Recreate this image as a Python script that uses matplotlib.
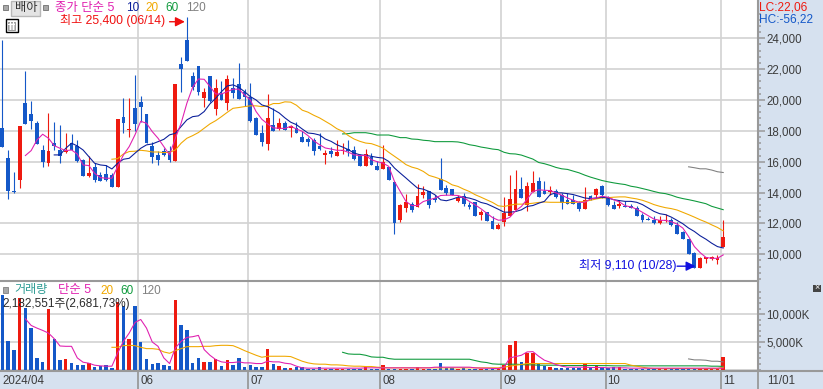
import numpy as np
import matplotlib
matplotlib.use("Agg")
import matplotlib.pyplot as plt
from matplotlib.patches import Rectangle
from matplotlib.ticker import FixedLocator, FuncFormatter

W, H = 823, 389
FONT = ['Liberation Sans', 'Noto Sans CJK KR']
plt.rcParams['font.family'] = FONT

highs = [23890,16760,15340,18320,21880,19940,18640,17090,19160,18560,
         18360,17870,17780,17410,16160,16370,15900,15320,15810,15250,
         18770,20130,20130,21620,20260,19100,17300,16720,16870,17020,
         21040,22810,25400,21840,22210,20760,21560,21340,21240,21600,
         21410,22400,20700,21080,18880,18360,20390,19490,18860,18620,
         18400,18580,17970,17580,17540,17860,16780,16950,17430,17210,
         17430,17040,16500,16850,16560,16060,17100,15630,14700,13270,
         13900,13420,14550,14440,14120,13860,16260,14480,14250,13860,
         13990,13380,13360,12840,12710,12450,12060,13730,15160,15480,
         15030,14700,15420,15030,14740,14410,14200,13980,14000,13870,
         13430,14330,13870,14300,14520,13760,13430,13500,13430,13280,
         13150,12670,12410,12500,12500,12610,12350,12070,11480,11000,
         10130,9850,9830,9910,9960,12240]
opens = [18190,16250,14110,14820,19810,19100,18510,16760,15940,17220,
         16760,16660,17200,17020,16120,15100,15680,15140,15210,15120,
         14390,18900,18080,19510,19870,19100,17040,16440,16700,16700,
         16050,22360,23890,21560,22210,20150,21560,19440,20370,19810,
         20760,21020,20500,20200,18800,17870,17170,18400,18120,18510,
         18190,18190,17600,17490,17430,17040,16410,16710,16350,16670,
         16820,16780,16350,15700,16300,15700,15550,15630,14700,12210,
         13010,13230,13080,13860,14120,13620,14900,14290,14250,13470,
         13750,13180,13360,12560,12710,12170,11650,12080,12450,12840,
         14250,13210,14030,14770,14130,14020,14130,13870,13540,13540,
         13330,12960,13760,13850,14410,13720,13200,13150,13110,13150,
         13000,12520,12300,12240,12020,12130,12240,11870,11460,11000,
         10110,9110,9720,9690,9630,10480]
closes = [16980,14130,14040,18320,18470,18660,17150,15990,16700,17020,
          16400,16720,16760,16050,15100,15270,14800,14780,14820,14390,
          18770,18510,18150,18430,19550,17240,16310,16120,16440,16090,
          21040,22010,22550,20870,20520,20520,19940,20780,20000,21360,
          20440,20090,20220,18660,17740,17260,18840,17970,18530,18080,
          18300,17840,17260,17260,16670,16840,16560,16520,16630,16780,
          16670,16190,15700,16500,15800,15480,15980,14830,12040,13210,
          13400,12880,13790,14010,13210,13490,14180,13960,13860,13640,
          13270,13080,12490,12710,12170,11650,11900,12660,13600,14250,
          13640,14440,14640,13730,13930,14170,13700,13330,13280,13280,
          12930,13540,13610,14240,13850,13220,12930,13280,13040,12980,
          12500,12240,12200,12020,12200,12240,11910,11330,11000,10000,
          9110,9740,9830,9800,9740,11130]
lows = [16980,13590,14000,14300,18470,18150,17150,15680,15750,16760,
        15940,16550,16760,16010,15100,15040,14710,14780,14780,14390,
        14390,17840,17630,18000,18600,17200,15920,15790,16400,15990,
        16050,20520,22550,20650,20300,19570,19850,19030,20000,19360,
        20110,20090,19620,18580,17740,17040,16760,17970,18080,18040,
        17580,17840,17260,17000,16450,16780,15870,16280,16350,16480,
        16390,16090,15700,15700,15760,15480,15550,14830,11320,12080,
        12750,12750,13080,13640,13030,13360,14180,13860,13860,13360,
        13160,12950,12490,12230,12170,11650,11650,11860,12450,12840,
        13640,12820,14030,13730,13930,13870,13650,12960,13280,13280,
        12830,12960,13500,13650,13650,13150,12930,12980,13040,12980,
        12500,12070,12200,11980,11980,12090,11850,11330,11000,10000,
        9110,9110,9460,9630,9370,10480]

ma5 = [16400,16720,17410,17780,17520,17040,16870,16720,16760,16500,
       15790,15750,15250,14970,14930,14930,15680,16440,16980,17740,
       18620,18490,17950,17520,16980,16440,17520,18490,19790,20820,
       21360,21340,20870,20390,20390,20540,20700,20700,20330,20000,
       19250,18750,18450,18190,18170,18150,18300,18120,17970,17690,
       17360,17100,16890,16820,16740,16740,16610,16450,16390,16410,
       16130,16000,15910,15700,14720,14070,13420,13160,13160,13420,
       13530,13640,13810,13830,13830,13810,13680,13420,13200,12950,
       12660,12380,12210,12230,12400,12820,13100,13570,14070,14180,
       14150,14130,13980,13830,13650,13500,13370,13370,13590,13650,
       13760,13700,13540,13390,13150,13070,12930,12720,12500,12280,
       12200,12200,12110,11960,11700,11150,10500,10110,9800,9740,
       9740,9960]
ma10 = [16440,16440,16870,17200,17020,16760,16330,15900,15790,15750,
        15530,15900,16160,16220,16550,16870,17090,17150,17300,17450,
        17740,17840,18280,18710,18920,18970,19250,19750,20110,20540,
        20910,20980,20820,20540,20220,20000,19680,19570,19380,19160,
        18840,18560,18400,18120,17860,17820,17730,17470,17320,17100,
        16950,16780,16560,16450,16410,16350,16280,16240,16020,15590,
        15260,14940,14610,14290,14220,14070,13860,13530,13470,13570,
        13700,13700,13640,13530,13360,13270,13100,12920,12730,12730,
        12770,12880,13100,13160,13310,13430,13870,13980,13980,13930,
        13870,13760,13650,13610,13650,13700,13650,13540,13480,13430,
        13430,13370,13220,13000,12780,12630,12570,12410,12200,11980,
        11700,11480,11200,10980,10720,10500,10410]
ma20 = [16160,16200,16500,16660,16680,16740,16700,16630,16630,16590,
        16610,16760,17200,17520,17690,17890,18170,18450,18660,18920,
        19200,19460,19510,19570,19620,19620,19570,19620,19770,19770,
        19880,19860,19660,19340,19210,19010,18840,18620,18400,18140,
        17970,17690,17470,17320,17210,17170,17040,16890,16610,16350,
        16090,15810,15650,15550,15370,15110,15000,14870,14720,14500,
        14400,14220,14070,13860,13700,13530,13360,13140,13100,13180,
        13250,13250,13270,13310,13360,13390,13370,13370,13370,13350,
        13350,13390,13430,13500,13590,13650,13670,13700,13720,13720,
        13650,13590,13500,13370,13220,13110,13020,12960,12870,12720,
        12570,12410,12240,12090,11910,11740,11520]
ma60 = [17800,17820,17880,17880,17880,17820,17730,17730,17730,17650,
        17560,17560,17470,17450,17390,17360,17300,17300,17300,17300,
        17280,17210,17100,17040,16950,16890,16820,16780,16610,16520,
        16500,16430,16300,16170,15950,15870,15760,15630,15540,15500,
        15390,15280,15130,15000,14890,14780,14700,14630,14570,14520,
        14410,14350,14260,14170,14070,13980,13930,13830,13700,13610,
        13540,13460,13370,13280,13110,13000,12890]
ma120 = [15670,15610,15540,15540,15460,15350,15300]

volumes = [13500,5160,3550,12900,11130,7500,2100,1380,10950,5500,
           1740,1920,1200,840,840,1200,480,660,840,300,
           12300,11500,5520,11460,4980,1920,1020,1200,840,660,
           12540,8040,7140,1200,2100,1380,1380,1920,660,1740,
           840,2100,480,840,480,480,3720,1020,660,300,
           300,540,420,180,180,480,180,180,180,180,
           180,180,180,480,180,180,840,120,120,120,
           150,150,480,150,120,120,1200,300,200,150,
           200,120,150,120,120,120,120,900,4440,5160,
           1380,3000,3000,1020,720,480,300,300,300,300,
           240,1000,300,780,540,300,480,480,150,150,
           150,150,150,150,150,150,150,150,150,150,
           150,150,150,150,150,2183]
vol_ma5 = [9180,7980,7500,7080,6600,5580,4260,4200,4200,2100,
           1320,1140,780,660,600,600,3000,5100,6600,8520,
           9060,7500,4980,4200,2100,1080,3900,5100,5820,5940,
           6180,3600,2580,1800,1380,1260,1260,1380,1200,1200,
           1080,1080,1500,1380,1380,1140,1020,600,300,240,
           240,240,240,240,240,240,240,240,240,300,
           300,300,300,300,300,300,300,300,300,300,
           300,420,420,420,420,420,420,420,300,240,
           240,200,180,420,2100,2340,2580,3180,3240,2400,
           1680,1320,900,600,420,420,420,420,360,360,
           360,300,300,300,300,240,240,240,240,240,
           240,240,240,240,240,240,240,240,240,240,
           240,240]
vol_ma20 = [4020,4020,4320,4380,4320,4020,3780,3780,3660,3180,
            2940,3420,3780,4140,4140,4140,4200,4200,4320,4380,
            4380,4320,3900,3420,3000,2580,2220,2400,2400,2400,
            2400,2340,1920,1500,1200,1020,960,960,840,840,
            780,660,600,600,540,540,420,360,300,300,
            300,300,300,300,300,300,300,300,300,300,
            300,300,300,300,300,300,300,300,420,600,
            780,900,1080,1080,1080,1080,1080,1080,1080,1080,
            1080,1080,1080,1080,1080,1080,1080,1080,1080,1080,
            780,600,420,240,180,180,180,180,180,180,
            180,180,180,180,180,180,420]
vol_ma60 = [3120,2820,2760,2760,2580,2280,2220,2220,1980,1860,
            1860,1860,1860,1860,1860,1860,1860,1860,1860,1860,
            1860,1860,1860,1620,1380,1260,1020,960,960,960,
            960,900,840,840,780,780,780,780,720,720,
            720,720,720,720,720,700,700,660,660,660,
            660,660,660,660,660,660,660,660,660,660,
            660,660,660,660,600,600,560]
vol_ma120 = [1920,1740,1740,1680,1500,1500,1380]

month_labels = ['2024/04', '06', '07', '08', '09', '10', '11']
month_pos = [None, 23.6, 42.65, 65.5, 86.5, 104.6, 124.7]
price_ticks = [10000, 12000, 14000, 16000, 18000, 20000, 22000, 24000]
vol_ticks = [5000, 10000]

RED, BLUE = '#EE1A10', '#1458C8'
MAG, NAVY, ORG, GRN, GRY = '#E020B0', '#0A1E9A', '#F0A800', '#0E9A3C', '#808080'
GRID, EDGE, PANEL, TXT = '#D2D2D2', '#999999', '#D6E1EF', '#3C3C3C'
X0, DX = 2.33, 5.767
PW = 758
LW = 0.78


def px_axes(x0, y0, x1, y1):
    return fig.add_axes([x0 / W, 1 - y1 / H, (x1 - x0) / W, (y1 - y0) / H])


def xlim_for(x0, x1):
    return (x0 - X0) / DX, (x1 - X0) / DX


def ftext(x, y, s, color=TXT, size=8.3, zorder=20, **kw):
    return fig.text(x / W, 1 - y / H, s, color=color, fontsize=size, va='center',
                    ha=kw.pop('ha', 'left'), zorder=zorder, family=FONT, **kw)


def frect(x0, y0, x1, y1, fc, ec='none', lw=0.8, zorder=15):
    fig.add_artist(Rectangle((x0 / W, 1 - y1 / H), (x1 - x0) / W, (y1 - y0) / H,
                             transform=fig.transFigure, fc=fc, ec=ec, lw=lw, zorder=zorder))


fig = plt.figure(figsize=(W / 100, H / 100), dpi=100, facecolor=PANEL)

idx = np.arange(len(closes))
colors = [RED if c >= o else BLUE for o, c in zip(opens, closes)]

# ---- price panel
ax = px_axes(0, 0, PW, 281)
ax.set_xlim(*xlim_for(0, PW))
ax.set_ylim(10000 + (254.3 - 281) * 64.8, 10000 + 254.3 * 64.8)
ax.set_xticks(month_pos[1:])
ax.set_xticklabels([])
ax.tick_params(axis='x', length=0)
ax.yaxis.tick_right()
ax.yaxis.set_major_locator(FixedLocator(price_ticks))
ax.yaxis.set_minor_locator(FixedLocator(np.arange(8400, 25700, 400)))
ax.yaxis.set_major_formatter(FuncFormatter(lambda v, p: f'{int(v):,}'))
ax.tick_params(axis='y', which='major', length=5, width=1.1, color=EDGE, labelsize=8.3,
               labelcolor=TXT, pad=0.8)
ax.tick_params(axis='y', which='minor', length=2.5, width=1.1, color=EDGE)
ax.grid(True, which='major', color=GRID, lw=1.2, zorder=0)
ax.set_axisbelow(True)
for s in ('top', 'left', 'bottom'):
    ax.spines[s].set_visible(False)
ax.spines['right'].set_color(EDGE)
ax.spines['right'].set_linewidth(1.5)

ax.vlines(idx, lows, highs, colors=colors, lw=0.8, zorder=3)
ax.bar(idx, np.abs(np.array(closes) - np.array(opens)),
       bottom=np.minimum(opens, closes), width=0.66, color=colors, lw=0, zorder=3)
for start, vals, col in ((119, ma120, GRY), (59, ma60, GRN), (19, ma20, ORG),
                         (9, ma10, NAVY), (4, ma5, MAG)):
    ax.plot(np.arange(start, start + len(vals)), vals, color=col, lw=LW, zorder=4)

ax.annotate('', xy=(31.65, 25070), xytext=(29.0, 25070),
            arrowprops=dict(arrowstyle='-|>', color='#F01010', lw=1.0, mutation_scale=14,
                            shrinkA=0, shrinkB=0), zorder=6)
ax.annotate('', xy=(120.2, 9230), xytext=(117.0, 9230),
            arrowprops=dict(arrowstyle='-|>', color='#1010E0', lw=1.0, mutation_scale=14,
                            shrinkA=0, shrinkB=0), zorder=6)

# ---- volume panel
vx = px_axes(0, 281, PW, 371)
vx.set_xlim(*xlim_for(0, PW))
vx.set_ylim((369.5 - 371) / 5.52 * 1000, (369.5 - 281) / 5.52 * 1000)
vx.set_xticks(month_pos[1:])
vx.set_xticklabels([])
vx.tick_params(axis='x', length=0)
vx.yaxis.tick_right()
vx.yaxis.set_major_locator(FixedLocator(vol_ticks))
vx.yaxis.set_minor_locator(FixedLocator(np.arange(0, 14500, 1000)))
vx.yaxis.set_major_formatter(FuncFormatter(lambda v, p: f'{int(v):,}K'))
vx.tick_params(axis='y', which='major', length=5, width=1.1, color=EDGE, labelsize=8.3,
               labelcolor=TXT, pad=0.8)
vx.tick_params(axis='y', which='minor', length=2.5, width=1.1, color=EDGE)
vx.grid(True, which='major', color=GRID, lw=1.2, zorder=0)
vx.axhline(0, color=GRID, lw=1.2, zorder=1)
vx.set_axisbelow(True)
vx.spines['left'].set_visible(False)
for s in ('top', 'bottom', 'right'):
    vx.spines[s].set_color(EDGE)
    vx.spines[s].set_linewidth(1.5)
vx.bar(idx, volumes, width=0.6, color=colors, lw=0, zorder=3)
for start, vals, col in ((119, vol_ma120, GRY), (59, vol_ma60, GRN), (19, vol_ma20, ORG),
                         (4, vol_ma5, MAG)):
    vx.plot(np.arange(start, start + len(vals)), vals, color=col, lw=LW, zorder=4)

# ---- date strip
dx = px_axes(0, 371, W, H)
dx.set_xlim(*xlim_for(0, W))
dx.set_ylim(0, 1)
dx.set_facecolor(PANEL)
dx.set_xticks([])
dx.set_yticks([])
for s in dx.spines.values():
    s.set_visible(False)
dx.spines['top'].set_visible(True)
dx.spines['top'].set_color(EDGE)
dx.spines['top'].set_linewidth(1.5)
for p in month_pos[1:] + [(PW - X0) / DX]:
    dx.axvline(p, color=EDGE, lw=1.3)
dx.text((2 - X0) / DX, 0.46, month_labels[0], color=TXT, fontsize=8.3, va='center')
for lab, p in zip(month_labels[1:], month_pos[1:]):
    dx.text(p + 0.35, 0.46, lab, color=TXT, fontsize=8.3, va='center')
dx.text((767 - X0) / DX, 0.46, '11/01', color=TXT, fontsize=8.3, va='center')

# ---- header widgets and labels
frect(3, 5, 8, 10, '#A8A8A8', '#707070', 0.6)
frect(10.5, 1.5, 39.5, 15.5, '#E4E4E4', '#B8B8B8', 1.0)
frect(43, 5, 48, 10, '#A8A8A8', '#707070', 0.6)
frect(5.5, 19.5, 18, 32, '#FFFFFF', '#000000', 1.0)
frect(8, 22, 15.5, 29.5, '#C8C8C8', '#808080', 0.5)
frect(10.2, 22, 10.9, 29.5, '#FFFFFF', zorder=16)
frect(12.8, 22, 13.5, 29.5, '#FFFFFF', zorder=16)
frect(8, 24.5, 15.5, 25.2, '#FFFFFF', zorder=16)
frect(3, 287, 8, 293, '#A8A8A8', '#808080', 0.6)
frect(813, 284.5, 821, 291.5, '#444444')
ftext(817, 288, '×', color='white', size=6.5, ha='center')

ftext(14.5, 8.5, '배아', color='#333333', size=8.8)
ftext(55, 8, '종가 단순 5', color=MAG, size=8.9)
ftext(126, 8, '10', color=NAVY, size=8.5)
ftext(145, 8, '20', color=ORG, size=8.5)
ftext(165, 8, '60', color=GRN, size=8.5)
ftext(186, 8, '120', color=GRY, size=8.5)
ftext(60, 20.5, '최고 25,400 (06/14)', color='#F01010', size=8.7)
ftext(579, 265.5, '최저 9,110 (10/28)', color='#1010E0', size=8.7)

ftext(14, 290.5, '거래량', color='#2E9C94', size=8.7)
ftext(58, 290.5, '단순 5', color=MAG, size=8.9)
ftext(100, 290.5, '20', color=ORG, size=8.5)
ftext(120, 290.5, '60', color=GRN, size=8.5)
ftext(141, 290.5, '120', color=GRY, size=8.5)
ftext(2, 303.5, '2,182,551주(2,681,73%)', color='#2A2A2A', size=8.5)

ftext(759, 7, 'LC:22,06', color=RED, size=8.6)
ftext(759, 19, 'HC:-56,22', color=BLUE, size=8.6)

fig.savefig('out.png', dpi=100, facecolor=PANEL)
